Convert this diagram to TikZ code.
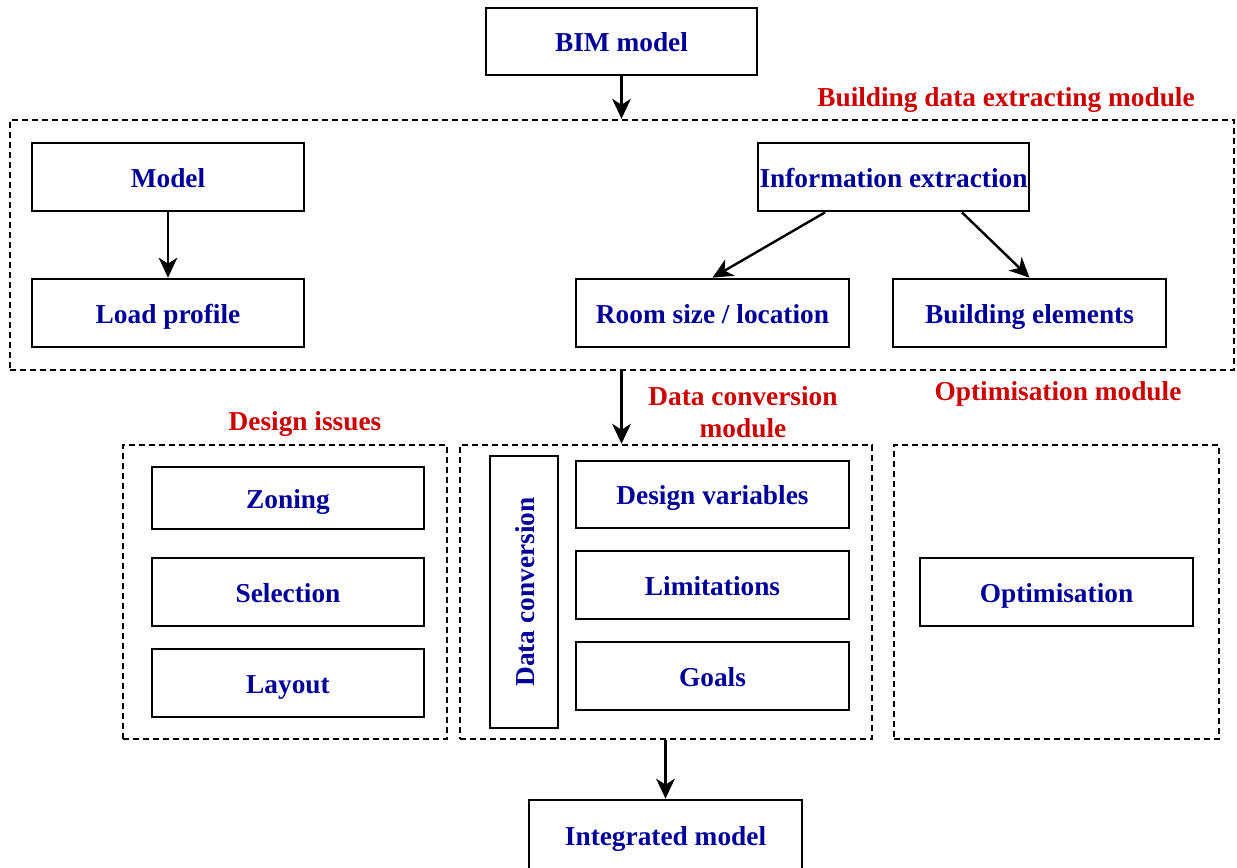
\documentclass[tikz,border=0pt]{standalone}
\usepackage{fontspec}
\setmainfont{Liberation Serif}
\usetikzlibrary{arrows.meta,calc}

\definecolor{boxblue}{RGB}{0,0,153}
\definecolor{modred}{RGB}{204,0,0}

\tikzset{every picture/.style={line width=1.8pt}}

\begin{document}
\begin{tikzpicture}[x=0.75pt,y=0.75pt,yscale=-1,xscale=1,
  box/.style={draw=black, line width=2pt, fill=white, minimum width=204pt, minimum height=51pt, inner sep=0.75pt, text height=19pt, text depth=4pt, font=\fontsize{20.5}{24}\selectfont\bfseries, text=boxblue},
  module/.style={draw=black, line width=1.8pt, dash pattern=on 4.5pt off 3pt, inner sep=0pt},
  modlabel/.style={inner sep=0.75pt, font=\fontsize{20.5}{24}\selectfont\bfseries, text=modred, align=center},
  arrow/.style={-{Stealth[length=15pt,width=14pt,inset=4.5pt]}, line width=1.8pt}]
\useasboundingbox (0,0) rectangle (1237,867);

%Modules (dashed)
\node [module, minimum width=918pt, minimum height=187.5pt] (bdem) at (622,245) {};
\node [module, minimum width=243pt, minimum height=220.5pt] (dim) at (285,592) {};
\node [module, minimum width=309pt, minimum height=220.5pt] (dcm) at (666,592) {};
\node [module, minimum width=243.75pt, minimum height=220.5pt] (opm) at (1056.5,592) {};

% Module labels
\node [modlabel] (bdelabel) at (1006,100) {Building data extracting module};
\node [modlabel] (dilabel) at (305,424) {Design issues};
\node [modlabel] (dclabel) at (743,412) {Data conversion\\module};
\node [modlabel] (oplabel) at (1058,394) {Optimisation module};

% Boxes
\node [box, minimum width=203.25pt, minimum height=50.25pt] (bim) at (621.5,41.5) {BIM model};
\node [box] (model) at (168,177) {Model};
\node [box] (load) at (168,313) {Load profile};
\node [box, minimum width=203.25pt] (info) at (893.5,177) {Information extraction};
\node [box, minimum width=204.75pt] (room) at (712.5,313) {Room size / location};
\node [box, minimum width=204.75pt] (building) at (1029.5,313) {Building elements};

\node [box, minimum height=46.5pt] (zoning) at (288,498) {Zoning};
\node [box] (selection) at (288,592) {Selection};
\node [box] (layout) at (288,683) {Layout};

\node [box, rotate=90] (dconv) at (524,592) {Data conversion};
\node [box, minimum width=204.75pt, minimum height=50.25pt] (var) at (712.5,494.5) {Design variables};
\node [box, minimum width=204.75pt] (lim) at (712.5,585) {Limitations};
\node [box, minimum width=204.75pt] (goals) at (712.5,676) {Goals};

\node [box, minimum width=204.75pt] (optim) at (1056.5,592) {Optimisation};

\node [box, minimum width=204.75pt, minimum height=52.5pt] (integ) at (665.5,835) {Integrated model};

% Arrows
\draw [arrow] (bim) -- (bim |- bdem.north);
\draw [arrow] (model) -- (load);
\draw [arrow] ($(info.south west)!0.25!(info.south east)$) -- (room.north);
\draw [arrow] ($(info.south west)!0.75!(info.south east)$) -- (building.north);
\draw [arrow] (bdem.south -| bim) -- (dcm.north -| bim);
\draw [arrow] (dcm.south -| integ) -- (integ);

\end{tikzpicture}
\end{document}
